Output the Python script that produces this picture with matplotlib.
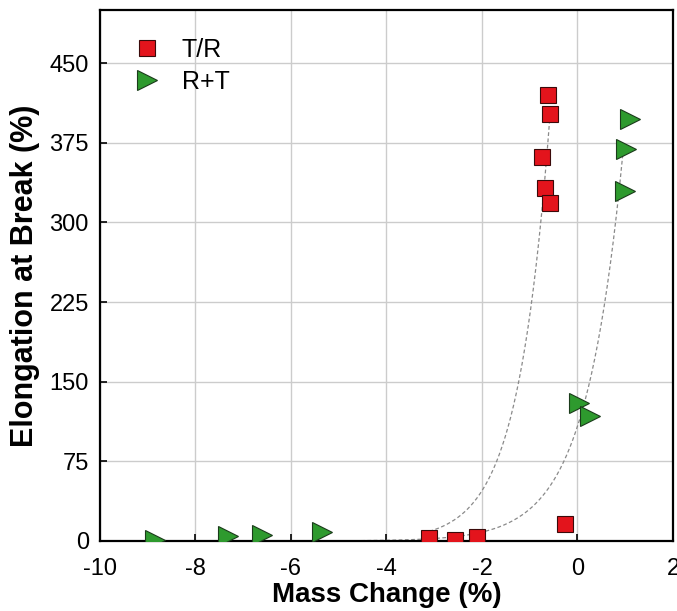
import numpy as np
import matplotlib
matplotlib.use("Agg")
import matplotlib.pyplot as plt

plt.rcParams["font.family"] = ["Liberation Sans", "DejaVu Sans"]
plt.rcParams["axes.unicode_minus"] = False

# T/R samples
tr_mass = [-3.10, -2.56, -2.10, -0.26, -0.61, -0.57, -0.74, -0.68, -0.57]
tr_elong = [3, 1, 4, 16, 420, 402, 362, 332, 318]

# R+T samples
rt_mass = [-8.85, -7.32, -6.61, -5.34, 0.04, 0.27, 1.11, 1.02, 1.00]
rt_elong = [1, 5, 6, 8, 130, 118, 397, 369, 330]

# exponential growth fits y = a * exp(b * x), drawn between x0 and x1
tr_fit = (950.0, 1.5, -3.10, -0.58)
rt_fit = (108.0, 1.28, -8.85, 0.95)

fig = plt.figure(figsize=(6.77, 6.11), dpi=100)
ax = fig.add_axes([0.1477, 0.1146, 0.8463, 0.869])

for a, b, x0, x1 in (tr_fit, rt_fit):
    xs = np.linspace(x0, x1, 300)
    ax.plot(xs, a * np.exp(b * xs), color="#8a8a8a", lw=0.9, ls=(0, (3, 2)), zorder=2)

ax.plot(tr_mass, tr_elong, ls="none", marker="s", ms=11, mfc="#e3141c",
        mec="#3a0a0a", mew=0.8, label="T/R", zorder=3)
ax.plot(rt_mass, rt_elong, ls="none", marker=">", ms=14, mfc="#2e9a2e",
        mec="#1b3b1b", mew=0.8, label="R+T", zorder=3)

ax.set_xlim(-10, 2)
ax.set_ylim(0, 500)
ax.set_xticks(np.arange(-10, 3, 2))
ax.set_yticks(np.arange(0, 451, 75))
ax.grid(True, color="#cccccc", lw=1.0)
ax.set_axisbelow(True)

for s in ax.spines.values():
    s.set_linewidth(1.6)
    s.set_color("black")

ax.tick_params(direction="in", length=5, width=1.2, labelsize=17)
ax.tick_params(axis="x", pad=12)
ax.tick_params(axis="y", pad=8)
ax.set_xlabel("Mass Change (%)", fontsize=20, fontweight="bold", labelpad=2)
ax.set_ylabel("Elongation at Break (%)", fontsize=22, fontweight="bold", labelpad=7)

ax.legend(loc="upper left", frameon=False, fontsize=18, handletextpad=0.8,
          borderaxespad=0.3, bbox_to_anchor=(0.025, 0.98), labelspacing=0.3,
          handlelength=1.2)

fig.savefig("out.png", dpi=100)
